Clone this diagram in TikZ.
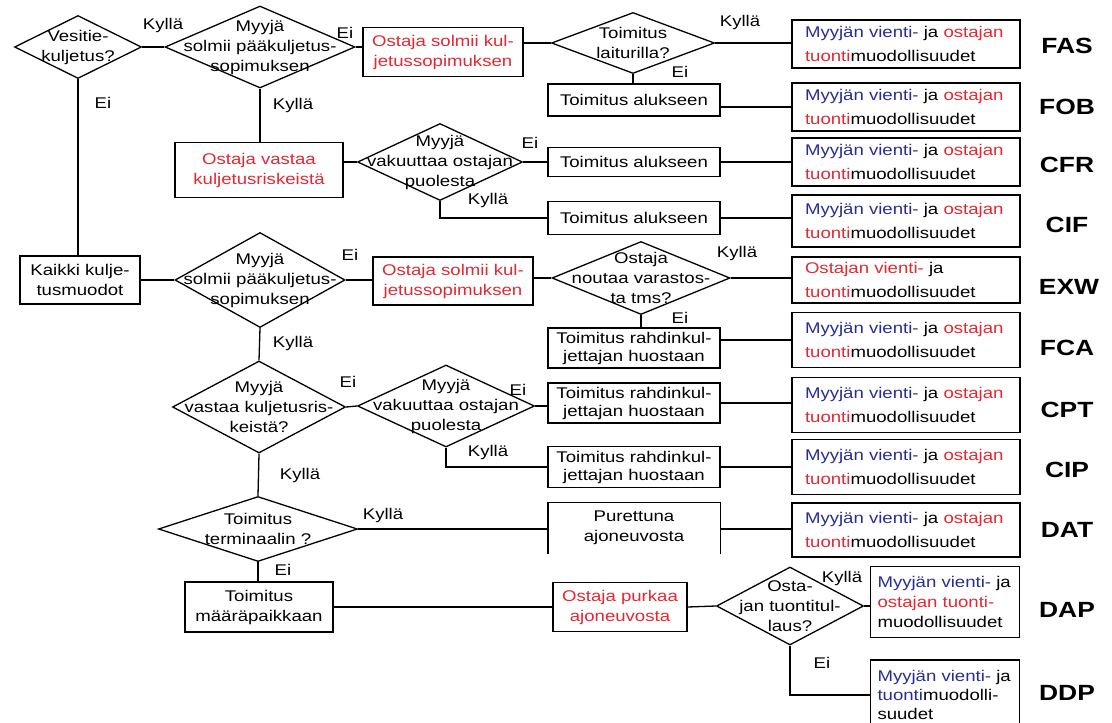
\documentclass[tikz,border=0pt]{standalone}
\usepackage{fontspec}
\setmainfont{Liberation Sans}[FakeStretch=1.2]
\usepackage{tikz}
\usetikzlibrary{shapes.geometric}

\definecolor{myyblue}{RGB}{40,45,150}
\definecolor{ostred}{RGB}{228,40,50}

\newcommand{\myyost}{\textcolor{myyblue}{Myyjän vienti-} ja \textcolor{ostred}{ostajan}\\\textcolor{ostred}{tuonti}muodollisuudet}

\tikzset{
  box/.style={draw, inner sep=2pt, align=center},
  rahti/.style={box, minimum width=172pt, minimum height=40pt, font=\fontsize{15.5}{18}\selectfont},
  decision/.style={draw, diamond, inner sep=0pt},
  dtext/.style={align=center},
  result/.style={draw, text width=202pt, inner xsep=13pt, align=left, minimum height=48pt, font=\fontsize{15.5}{24}\selectfont},
  smallres/.style={draw, text width=135pt, inner xsep=7pt, align=left},
  incoterm/.style={font=\fontsize{22}{24}\selectfont\bfseries},
  ans/.style={inner sep=1pt}
}

\begin{document}
\begin{tikzpicture}[x=1pt, y=-1pt, font=\fontsize{15.5}{20}\selectfont, line width=1.3pt]
    \useasboundingbox (0,0) rectangle (1112,723);

    % vesitiekuljetus
    \node[decision, minimum width=127pt, minimum height=63pt, label={[dtext]center:Vesitie-\\kuljetus?}] at (78,47) (vesi) {};
    \node[decision, minimum width=190pt, minimum height=82pt, label={[dtext]center:Myyjä\\solmii pääkuljetus-\\sopimuksen}] at (260,47) (sopA) {};
    \node[box, text=ostred, minimum width=160pt, minimum height=49pt] at (443,52) (ostA) {Ostaja solmii kul-\\jetussopimuksen};
    \node[decision, minimum width=163pt, minimum height=61pt, label={[dtext]center:Toimitus\\laiturilla?}] at (633,43) (lait) {};
    \node[result] at (906,44) (fas) {\myyost};
    \node[box, minimum width=172pt, minimum height=32pt] at (634,100) (alusA) {Toimitus alukseen};
    \node[result] at (906,107) (fob) {\myyost};
    \node[box, text=ostred, minimum width=168pt, minimum height=55pt] at (259,170) (ostB) {Ostaja vastaa\\kuljetusriskeistä};
    \node[decision, minimum width=165pt, minimum height=77pt, label={[dtext]center:Myyjä\\vakuuttaa ostajan\\puolesta}] at (440,162) (vakA) {};
    \node[box, minimum width=172pt, minimum height=29pt] at (634,162) (alusB) {Toimitus alukseen};
    \node[result] at (906,162) (cfr) {\myyost};
    \node[box, minimum width=172pt, minimum height=33pt] at (634,218) (alusC) {Toimitus alukseen};
    \node[result, minimum height=52pt] at (906,221) (cif) {\myyost};

    % kaikki kuljetusmuodot
    \node[box, minimum width=120pt, minimum height=48pt] at (80,280) (kaikki) {Kaikki kulje-\\tusmuodot};
    \node[decision, minimum width=170pt, minimum height=95pt, label={[dtext]center:Myyjä\\solmii pääkuljetus-\\sopimuksen}] at (260,280) (sopB) {};
    \node[box, text=ostred, minimum width=160pt, minimum height=48pt] at (453,281) (ostC) {Ostaja solmii kul-\\jetussopimuksen};
    \node[decision, minimum width=178pt, minimum height=73pt, label={[dtext]center:Ostaja\\noutaa varastos-\\ta tms?}] at (641,278) (nout) {};
    \node[result, minimum height=46pt] at (906,280) (exw) {\textcolor{ostred}{Ostajan vienti-} ja\\\textcolor{ostred}{tuonti}muodollisuudet};
    \node[rahti] at (634,348) (rahA) {Toimitus rahdinkul-\\jettajan huostaan};
    \node[result, minimum height=55pt] at (906,340) (fca) {\myyost};
    \node[decision, minimum width=173pt, minimum height=92pt, label={[dtext]center:Myyjä\\vastaa kuljetusris-\\keistä?}] at (259,407) (vasB) {};
    \node[decision, minimum width=177pt, minimum height=82pt, label={[dtext]center:Myyjä\\vakuuttaa ostajan\\puolesta}] at (446,406) (vakB) {};
    \node[rahti] at (634,403) (rahB) {Toimitus rahdinkul-\\jettajan huostaan};
    \node[result, minimum height=55pt] at (906,405) (cpt) {\myyost};
    \node[rahti, minimum height=41pt] at (634,467) (rahC) {Toimitus rahdinkul-\\jettajan huostaan};
    \node[result, minimum height=55pt] at (906,467) (cip) {\myyost};

    % terminaali / maarapaikka
    \node[decision, minimum width=199pt, minimum height=65pt, label={[dtext]center:Toimitus\\terminaalin ?}] at (258,529) (termi) {};
    \node[minimum width=171pt, minimum height=50pt, align=center] at (634,528) (pur) {Purettuna\\ajoneuvosta};
    \node[result, minimum height=54pt] at (906,530) (dat) {\myyost};
    \node[box, minimum width=148pt, minimum height=50pt] at (259,607) (maar) {Toimitus\\määräpaikkaan};
    \node[box, text=ostred, minimum width=134pt, minimum height=49pt] at (620,607) (ostD) {Ostaja purkaa\\ajoneuvosta};
    \node[decision, minimum width=147pt, minimum height=78pt, label={[dtext]center:Osta-\\jan tuontitul-\\laus?}] at (790,606) (tuon) {};
    \node[smallres, minimum height=71pt] at (945,602) (dap) {\textcolor{myyblue}{Myyjän vienti-} ja\\\textcolor{ostred}{ostajan tuonti-}\\muodollisuudet};
    \node[smallres, minimum height=70pt, font=\fontsize{15.5}{19}\selectfont] at (945,695) (ddp) {\textcolor{myyblue}{Myyjän vienti-} ja\\\textcolor{myyblue}{tuonti}muodolli-\\suudet};

    % incoterms
    \node[incoterm] at (1067,46) (tfas) {FAS};
    \node[incoterm] at (1067,107) (tfob) {FOB};
    \node[incoterm] at (1067,165) (tcfr) {CFR};
    \node[incoterm] at (1067,225) (tcif) {CIF};
    \node[incoterm] at (1069,287) (texw) {EXW};
    \node[incoterm] at (1067,348) (tfca) {FCA};
    \node[incoterm] at (1067,410) (tcpt) {CPT};
    \node[incoterm] at (1067,470) (tcip) {CIP};
    \node[incoterm] at (1067,530) (tdat) {DAT};
    \node[incoterm] at (1067,610) (tdap) {DAP};
    \node[incoterm] at (1067,693) (tddp) {DDP};

    % vastaukset
    \node[ans] at (163,25) (y1) {Kyllä};
    \node[ans] at (345,33) (e1) {Ei};
    \node[ans] at (103,103) (e2) {Ei};
    \node[ans] at (293,105) (y2) {Kyllä};
    \node[ans] at (740,22) (y3) {Kyllä};
    \node[ans] at (680,72) (e3) {Ei};
    \node[ans] at (530,143) (e4) {Ei};
    \node[ans] at (488,200) (y4) {Kyllä};
    \node[ans] at (350,255) (e5) {Ei};
    \node[ans] at (293,343) (y5) {Kyllä};
    \node[ans] at (737,253) (y6) {Kyllä};
    \node[ans] at (680,318) (e6) {Ei};
    \node[ans] at (348,382) (e7) {Ei};
    \node[ans] at (518,390) (e8) {Ei};
    \node[ans] at (488,452) (y7) {Kyllä};
    \node[ans] at (300,475) (y8) {Kyllä};
    \node[ans] at (383,515) (y9) {Kyllä};
    \node[ans] at (283,570) (e9) {Ei};
    \node[ans] at (842,578) (y10) {Kyllä};
    \node[ans] at (822,663) (e10) {Ei};

    % yhteydet
    \draw (vesi.east) -- (sopA.west);
    \draw (sopA.east) -- (sopA.east -| ostA.west);
    \draw (lait.west -| ostA.east) -- (lait.west);
    \draw (lait.east) -- (lait.east -| fas.west);
    \draw (lait.south) -- (lait.south |- alusA.north);
    \draw (fob.west -| alusA.east) -- (fob.west);
    \draw (sopA.south) -- (sopA.south |- ostB.north);
    \draw (vakA.west -| ostB.east) -- (vakA.west);
    \draw (vakA.east) -- (alusB.west);
    \draw (alusB.east) -- (cfr.west);
    \draw (vakA.south) |- (alusC.west);
    \draw (alusC.east) -- (alusC.east -| cif.west);

    \draw (vesi.south) -- (vesi.south |- kaikki.north);
    \draw (kaikki.east) -- (sopB.west);
    \draw (sopB.east) -- (sopB.east -| ostC.west);
    \draw (nout.west -| ostC.east) -- (nout.west);
    \draw (nout.east) -- (nout.east -| exw.west);
    \draw (nout.south) -- (nout.south |- rahA.north);
    \draw (fca.west -| rahA.east) -- (fca.west);
    \draw (sopB.south) -- (vasB.north);
    \draw (vasB.east) -- (vakB.west);
    \draw (vakB.east) -- (vakB.east -| rahB.west);
    \draw (rahB.east) -- (rahB.east -| cpt.west);
    \draw (vakB.south) |- (rahC.west);
    \draw (rahC.east) -- (cip.west);

    \draw (vasB.south) -- (termi.north);
    \draw (termi.east) -- (termi.east -| pur.west);
    \draw (pur.south west) -- (pur.north west) -- (pur.north east) -- (pur.south east);
    \draw (termi.east -| pur.east) -- (termi.east -| dat.west);
    \draw (termi.south) -- (termi.south |- maar.north);
    \draw (maar.east) -- (ostD.west);
    \draw (ostD.east) -- (tuon.west);
    \draw (tuon.east) -- (tuon.east -| dap.west);
    \draw (tuon.south) |- (ddp.west);
\end{tikzpicture}
\end{document}
